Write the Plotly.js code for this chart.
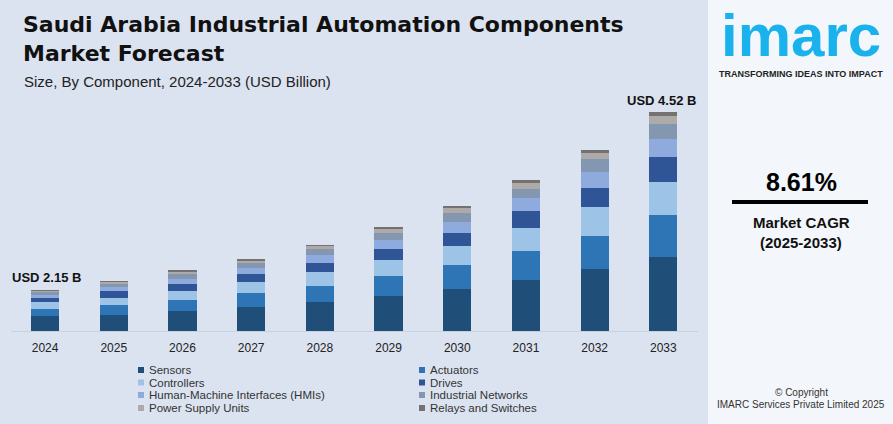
<!DOCTYPE html>
<html>
<head>
<meta charset="utf-8">
<script src="https://cdn.plot.ly/plotly-3.0.1.min.js"></script>
<style>html,body{margin:0;padding:0;background:#dbe3f0;}#chart{width:893px;height:424px;}</style>
</head>
<body>
<div id="chart"></div>
<script>
// ---- Data (bar segment heights; the source chart is not drawn to a linear scale) ----
const years = ["2024","2025","2026","2027","2028","2029","2030","2031","2032","2033"];
const sensors     = [0.30,0.33,0.41,0.49,0.59,0.72,0.86,1.05,1.27,1.53];
const actuators   = [0.15,0.21,0.23,0.29,0.33,0.41,0.50,0.60,0.70,0.86];
const controllers = [0.14,0.15,0.19,0.23,0.29,0.33,0.39,0.47,0.58,0.68];
const drives      = [0.09,0.13,0.15,0.17,0.19,0.23,0.27,0.35,0.41,0.52];
const hmis        = [0.07,0.08,0.10,0.12,0.17,0.19,0.24,0.27,0.33,0.37];
const networks    = [0.05,0.08,0.09,0.10,0.12,0.14,0.17,0.20,0.25,0.31];
const powerSupply = [0.03,0.03,0.04,0.04,0.06,0.08,0.10,0.11,0.14,0.16];
const relays      = [0.02,0.03,0.04,0.04,0.03,0.04,0.06,0.06,0.06,0.08];
const seriesNames = ["Sensors","Actuators","Controllers","Drives","Human-Machine Interfaces (HMIs)","Industrial Networks","Power Supply Units","Relays and Switches"];
const seriesData  = [sensors,actuators,controllers,drives,hmis,networks,powerSupply,relays];
const startLabel = "USD 2.15 B";
const endLabel = "USD 4.52 B";
const cagrText = "8.61%";

// ---- Styles ----
const colors = ["#1f4e79","#2e75b6","#9dc3e6","#2f5597","#8faadc","#8497b0","#aeaaaa","#767171"];
const W = 893, H = 424;
const FONT = "Liberation Sans, Arial, sans-serif";
const TFONT = "DejaVu Sans, Liberation Sans, sans-serif";
const px = x => x / W;
const py = y => 1 - y / H;

const traces = seriesNames.map((n, i) => ({
  type: "bar", name: n, x: years, y: seriesData[i],
  marker: {color: colors[i], line: {width: 0}},
  showlegend: false, hoverinfo: "x+y+name"
}));

const annotations = [];
const shapes = [];
// right panel
shapes.push({type:"rect", xref:"paper", yref:"paper", x0:px(708), x1:px(893), y0:py(424), y1:py(0),
  fillcolor:"#f3f6fa", line:{width:0}, layer:"below"});
// CAGR line
shapes.push({type:"line", xref:"paper", yref:"paper", x0:px(732), x1:px(868), y0:py(202), y1:py(202),
  line:{color:"#000", width:4}});

// manual legend (two columns)
const legCols = [{sq:141, tx:147},{sq:422, tx:428}];
const legRows = [370, 382.5, 395, 408];
seriesNames.forEach((n, i) => {
  const c = legCols[i % 2], r = legRows[Math.floor(i / 2)];
  shapes.push({type:"rect", xref:"paper", yref:"paper", x0:px(c.sq-3), x1:px(c.sq+3), y0:py(r+3), y1:py(r-3),
    fillcolor:colors[i], line:{width:0}});
  annotations.push({xref:"paper", yref:"paper", x:px(c.tx), y:py(r), xanchor:"left", yanchor:"middle",
    text:n, showarrow:false, font:{family:FONT, size:11.5, color:"#333"}});
});

// value labels
annotations.push({xref:"paper", yref:"paper", x:px(10), y:py(277), xanchor:"left", yanchor:"middle",
  text:"<b>"+startLabel+"</b>", showarrow:false, font:{family:FONT, size:13, color:"#111"}});
annotations.push({xref:"paper", yref:"paper", x:px(698), y:py(100), xanchor:"right", yanchor:"middle",
  text:"<b>"+endLabel+"</b>", showarrow:false, font:{family:FONT, size:13, color:"#111"}});

// subtitle
annotations.push({xref:"paper", yref:"paper", x:px(22), y:py(81), xanchor:"left", yanchor:"middle",
  text:"Size, By Component, 2024-2033 (USD Billion)", showarrow:false, font:{family:FONT, size:15, color:"#222"}});

// right panel texts
annotations.push({xref:"paper", yref:"paper", x:px(801), y:py(36), xanchor:"center", yanchor:"middle",
  text:"<b>imarc</b>", showarrow:false, font:{family:FONT, size:60, color:"#19b2ec"}});
annotations.push({xref:"paper", yref:"paper", x:px(801), y:py(74), xanchor:"center", yanchor:"middle",
  text:"<b>TRANSFORMING IDEAS INTO IMPACT</b>", showarrow:false, font:{family:FONT, size:9, color:"#222"}});
annotations.push({xref:"paper", yref:"paper", x:px(801), y:py(182), xanchor:"center", yanchor:"middle",
  text:"<b>"+cagrText+"</b>", showarrow:false, font:{family:FONT, size:25, color:"#000"}});
annotations.push({xref:"paper", yref:"paper", x:px(801), y:py(222), xanchor:"center", yanchor:"middle",
  text:"<b>Market CAGR</b>", showarrow:false, font:{family:FONT, size:15, color:"#111"}});
annotations.push({xref:"paper", yref:"paper", x:px(801), y:py(243), xanchor:"center", yanchor:"middle",
  text:"<b>(2025-2033)</b>", showarrow:false, font:{family:FONT, size:15, color:"#111"}});
annotations.push({xref:"paper", yref:"paper", x:px(801), y:py(392), xanchor:"center", yanchor:"middle",
  text:"© Copyright", showarrow:false, font:{family:FONT, size:10, color:"#333"}});
annotations.push({xref:"paper", yref:"paper", x:px(801), y:py(404), xanchor:"center", yanchor:"middle",
  text:"IMARC Services Private Limited 2025", showarrow:false, font:{family:FONT, size:10, color:"#333"}});

const yTopPx = 90, yBotPx = 331, pxPerUnit = 48.45;
const layout = {
  width: W, height: H,
  margin: {l:0, r:0, t:0, b:0},
  paper_bgcolor: "#dbe3f0", plot_bgcolor: "rgba(0,0,0,0)",
  font: {family: FONT, color: "#222"},
  title: {text: "<b>Saudi Arabia Industrial Automation Components<br>Market Forecast</b>",
    x: px(23), xanchor: "left", xref: "container", y: 1 - 32/H, yanchor: "top", yref: "container",
    font: {family: TFONT, size: 22, color: "#111"}},
  barmode: "stack", bargap: 0.59,
  xaxis: {domain: [px(10.7), px(697.7)], type: "category", showgrid: false, zeroline: false,
    showline: true, linecolor: "#c9d1dd", linewidth: 1, ticks: "", ticklabelstandoff: 6,
    tickfont: {family: FONT, size: 12, color: "#222"}, fixedrange: true},
  yaxis: {domain: [py(yBotPx), py(yTopPx)], range: [0, (yBotPx - yTopPx) / pxPerUnit],
    visible: false, showgrid: false, zeroline: false, fixedrange: true},
  shapes: shapes, annotations: annotations, showlegend: false
};

Plotly.newPlot("chart", traces, layout, {displayModeBar: false, staticPlot: true});
</script>
</body>
</html>
